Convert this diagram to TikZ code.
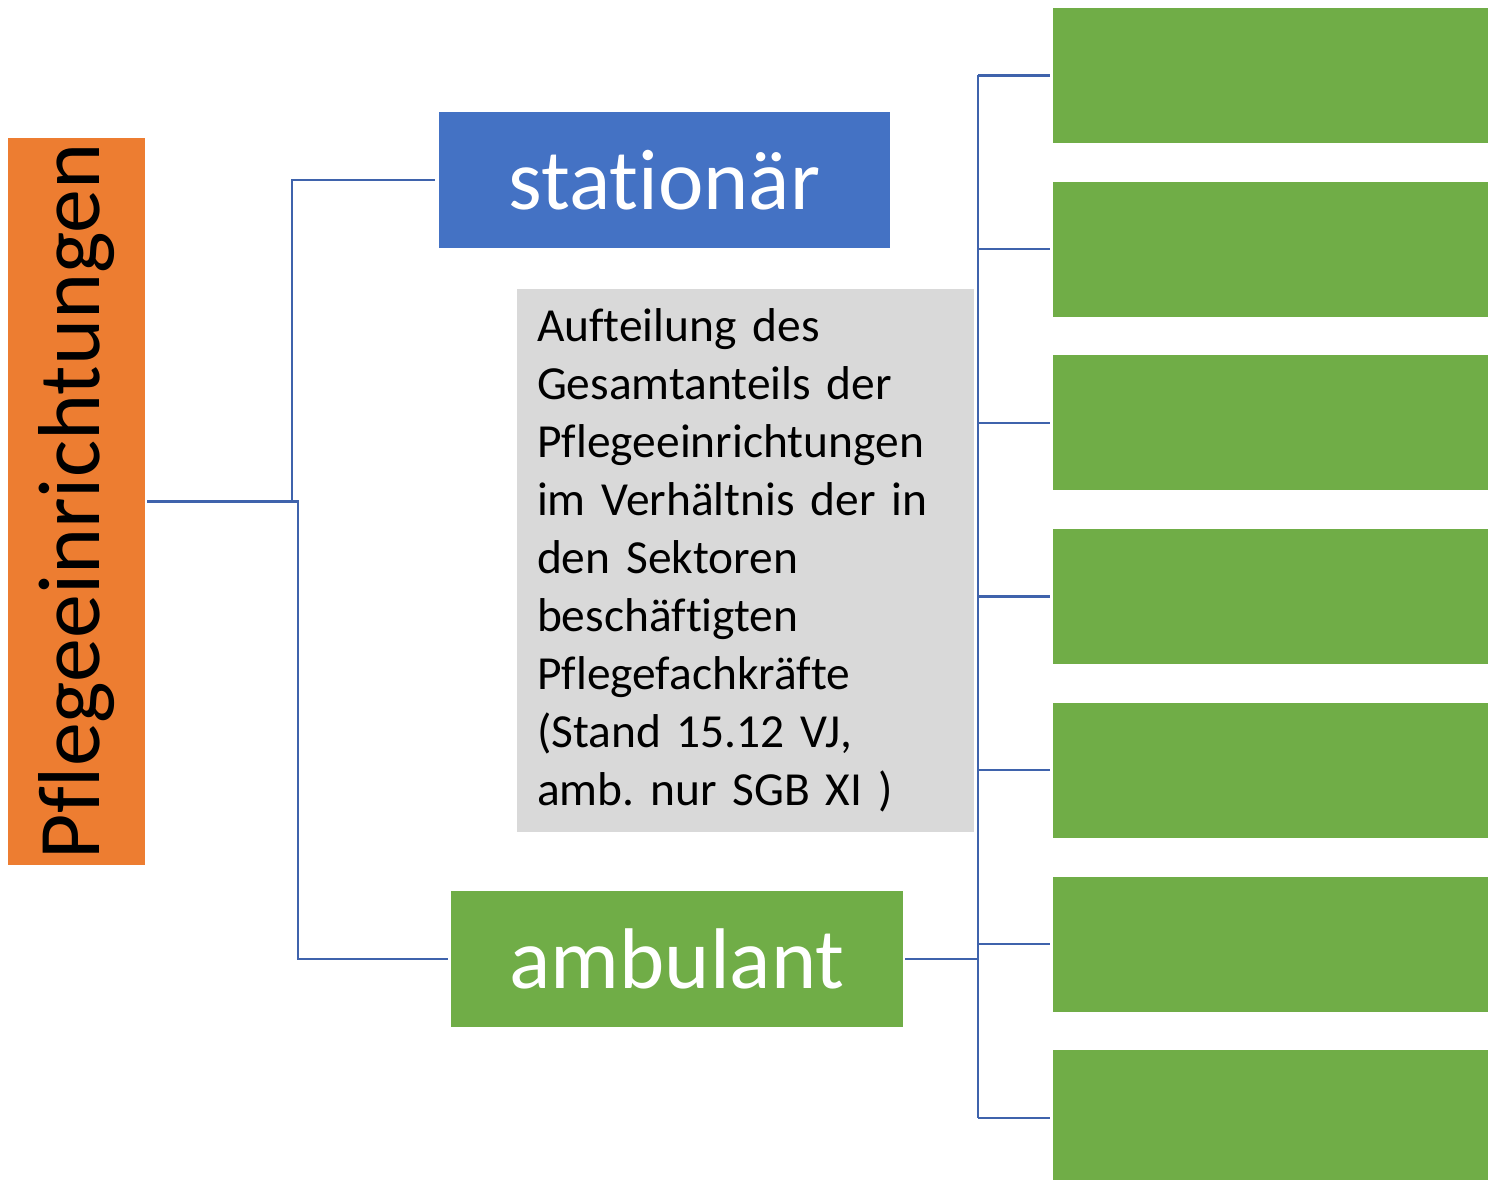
\documentclass[tikz,border=0pt]{standalone}
\usepackage{fontspec}
\setmainfont{Carlito}[Ligatures=NoCommon]
\usetikzlibrary{positioning}
\definecolor{mainorange}{HTML}{ED7D31}
\definecolor{statblue}{HTML}{4472C4}
\definecolor{ambgreen}{HTML}{70AD47}
\definecolor{infogray}{HTML}{D9D9D9}
\definecolor{linkblue}{HTML}{3F63AC}
\frenchspacing
\newcommand\infotextfont{\fontsize{27}{33}\selectfont\spaceskip=0.2em\relax}

\begin{document}
\begin{tikzpicture}[
mainnode/.style={rectangle, fill=mainorange, minimum width=2.74cm, minimum height=14.54cm, inner sep=0pt, font=\fontsize{50}{60}\selectfont},
sectornode/.style={rectangle, minimum width=9.03cm, minimum height=2.72cm, inner sep=0pt, text=white, font=\fontsize{49}{59}\selectfont},
infonode/.style={rectangle, fill=infogray, text width=8.34cm, inner xsep=0.4cm, inner ysep=0pt, minimum height=10.86cm, align=left, font=\infotextfont},
leafnode/.style={rectangle, fill=ambgreen, minimum width=8.7cm, minimum height=2.7cm, inner sep=0pt},
link/.style={draw=linkblue, line width=1.3pt},
node distance=0.76cm,
]
\useasboundingbox (0,0) rectangle (29.76,23.58);
%Nodes
\node[mainnode]   (main)  at (1.53,13.55) {\rotatebox{90}{Pflegeeinrichtungen}};
\node[sectornode, fill=statblue] (stat) at (13.29,19.98) {stationär};
\node[infonode]   (info)  at (14.91,12.37) {Aufteilung des\\
        Gesamtanteils der\\
        Pflegeeinrichtungen\\
        im Verhältnis der in\\
        den Sektoren\\
        beschäftigten\\
        Pflegefachkräfte\\
        (Stand 15.12 VJ,\\
        amb. nur SGB XI )};
\node[sectornode, fill=ambgreen] (amb) at (13.54,4.40) {ambulant};

\node[leafnode]   (leaf1) at (25.41,22.07) {};
\node[leafnode]   (leaf2) [below=of leaf1] {};
\node[leafnode]   (leaf3) [below=of leaf2] {};
\node[leafnode]   (leaf4) [below=of leaf3] {};
\node[leafnode]   (leaf5) [below=of leaf4] {};
\node[leafnode]   (leaf6) [below=of leaf5] {};
\node[leafnode]   (leaf7) [below=of leaf6] {};

\coordinate (busx) at (19.56,0);

%Lines
\draw[link] ([xshift=0.04cm]main.east) -- ++(2.90,0) |- ([xshift=-0.06cm]stat.west);
\draw[link] ([xshift=0.04cm]main.east) -- ++(3.02,0) |- ([xshift=-0.06cm]amb.west);
\draw[link] ([xshift=0.04cm]amb.east) -- (amb.east -| busx);
\draw[link] (leaf1.west -| busx) -- (leaf7.west -| busx);
\draw[link] (leaf1.west -| busx) -- ([xshift=-0.06cm]leaf1.west);
\draw[link] (leaf2.west -| busx) -- ([xshift=-0.06cm]leaf2.west);
\draw[link] (leaf3.west -| busx) -- ([xshift=-0.06cm]leaf3.west);
\draw[link] (leaf4.west -| busx) -- ([xshift=-0.06cm]leaf4.west);
\draw[link] (leaf5.west -| busx) -- ([xshift=-0.06cm]leaf5.west);
\draw[link] (leaf6.west -| busx) -- ([xshift=-0.06cm]leaf6.west);
\draw[link] (leaf7.west -| busx) -- ([xshift=-0.06cm]leaf7.west);

\end{tikzpicture}
\end{document}
